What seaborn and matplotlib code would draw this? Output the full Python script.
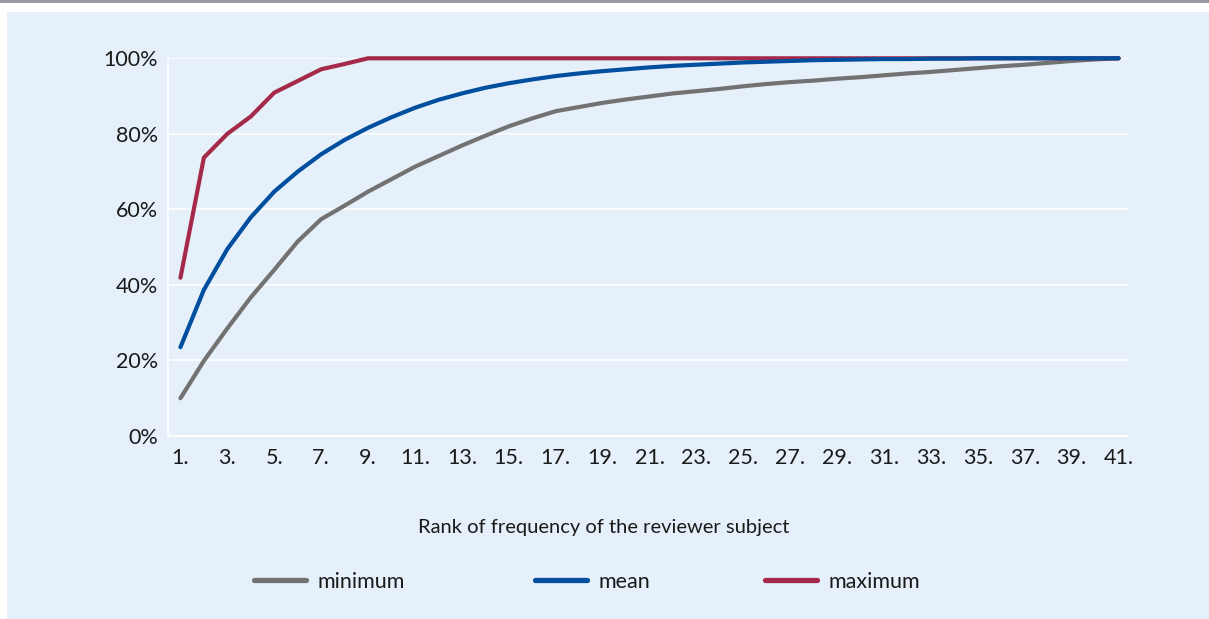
import numpy as np
import pandas as pd
import matplotlib
matplotlib.use("Agg")
import matplotlib.pyplot as plt
from matplotlib.patches import Rectangle
from matplotlib.lines import Line2D
import seaborn as sns

# ---- data ----
rank = list(range(1, 42))
minimum = [10.0, 19.9, 28.5, 36.7, 44.0, 51.5, 57.4, 61.0, 64.7, 68.0,
           71.3, 74.1, 76.9, 79.5, 82.0, 84.1, 86.0, 87.1, 88.2, 89.1,
           89.9, 90.7, 91.3, 91.9, 92.6, 93.2, 93.7, 94.1, 94.6, 95.0,
           95.5, 96.0, 96.4, 96.9, 97.4, 97.9, 98.3, 98.8, 99.3, 99.7, 100.0]
mean = [23.5, 38.7, 49.5, 57.9, 64.7, 70.0, 74.6, 78.4, 81.6, 84.4,
        86.9, 89.0, 90.7, 92.2, 93.4, 94.4, 95.3, 96.0, 96.6, 97.1,
        97.6, 98.0, 98.3, 98.6, 98.9, 99.1, 99.3, 99.5, 99.6, 99.7,
        99.8, 99.8, 99.9, 99.9, 100.0, 100.0, 100.0, 100.0, 100.0, 100.0, 100.0]
maximum = [41.9, 73.7, 80.0, 84.6, 90.9, 94.0, 97.1, 98.5] + [100.0] * 33
series_names = ["minimum", "mean", "maximum"]
series_colors = ["#727272", "#004f9f", "#a52a4a"]
yticks = [0, 20, 40, 60, 80, 100]
ytick_labels = ["0%", "20%", "40%", "60%", "80%", "100%"]
xtick_labels = [f"{r}." if r % 2 == 1 else "" for r in rank]
xlabel = "Rank of frequency of the reviewer subject"

df = pd.concat([
    pd.DataFrame({"rank": rank, "share": minimum, "series": "minimum"}),
    pd.DataFrame({"rank": rank, "share": maximum, "series": "maximum"}),
    pd.DataFrame({"rank": rank, "share": mean, "series": "mean"}),
], ignore_index=True)

sns.set_style("white")
plt.rcParams["font.family"] = ["Lato", "DejaVu Sans"]
FS_TICK = 15.5
FS_LAB = 14.5
FS_LEG = 15.5
TXT = "#1a1a1a"

W, H = 1209, 619
fig = plt.figure(figsize=(W / 100, H / 100), dpi=100)
fig.patch.set_facecolor("white")
# top grey rule and light-blue panel
fig.patches.append(Rectangle((0, 1 - 3 / H), 1, 3 / H, transform=fig.transFigure,
                             facecolor="#969a9e", edgecolor="none", zorder=-10))
fig.patches.append(Rectangle((7 / W, 0), 1 - 7 / W, 1 - 12 / H, transform=fig.transFigure,
                             facecolor="#e6f0fa", edgecolor="none", zorder=-10))

ax = fig.add_axes([168 / W, 1 - 436 / H, (1128 - 168) / W, (436 - 58.3) / H])
ax.set_zorder(1)
ax.patch.set_alpha(0)

palette = dict(zip(series_names, series_colors))
sns.lineplot(data=df, x="rank", y="share", hue="series", palette=palette,
             linewidth=3.0, ax=ax, legend=False, sort=False, estimator=None)
for ln in ax.lines:
    ln.set_clip_on(False)
    ln.set_solid_capstyle("round")

ax.set_xlim(0.47, 41.4)
ax.set_ylim(0, 100)
ax.set_xticks(rank)
ax.set_xticklabels(xtick_labels, fontsize=FS_TICK, color=TXT)
ax.set_yticks(yticks)
ax.set_yticklabels(ytick_labels, fontsize=FS_TICK, color=TXT)
ax.tick_params(axis="x", length=7.5, width=1.2, color="white", pad=1.5)
ax.tick_params(axis="y", length=0, pad=7)
ax.grid(axis="y", color="white", linewidth=1.1)
ax.grid(axis="x", visible=False)
ax.set_axisbelow(True)
for s in ["top", "right"]:
    ax.spines[s].set_visible(False)
for s in ["left", "bottom"]:
    ax.spines[s].set_color("white")
    ax.spines[s].set_linewidth(1.1)
    ax.spines[s].set_zorder(0.5)
ax.set_xlabel("")
ax.set_ylabel("")

fig.text(604 / W, 1 - 527 / H, xlabel, ha="center", va="center", fontsize=FS_LAB, color=TXT)

# legend entries: one legend per entry so the uneven spacing of the original is kept
leg_x = [254, 535, 765]
for name, color, x0 in zip(series_names, series_colors, leg_x):
    h = Line2D([], [], color=color, linewidth=3.8)
    lg = fig.legend([h], [name], loc="center left", bbox_to_anchor=(x0 / W, 1 - 582 / H),
                    frameon=False, fontsize=FS_LEG, handlelength=2.4, handletextpad=0.55,
                    borderpad=0, borderaxespad=0)
    for t in lg.get_texts():
        t.set_color(TXT)

fig.savefig("out.png", dpi=100, facecolor=fig.get_facecolor())
